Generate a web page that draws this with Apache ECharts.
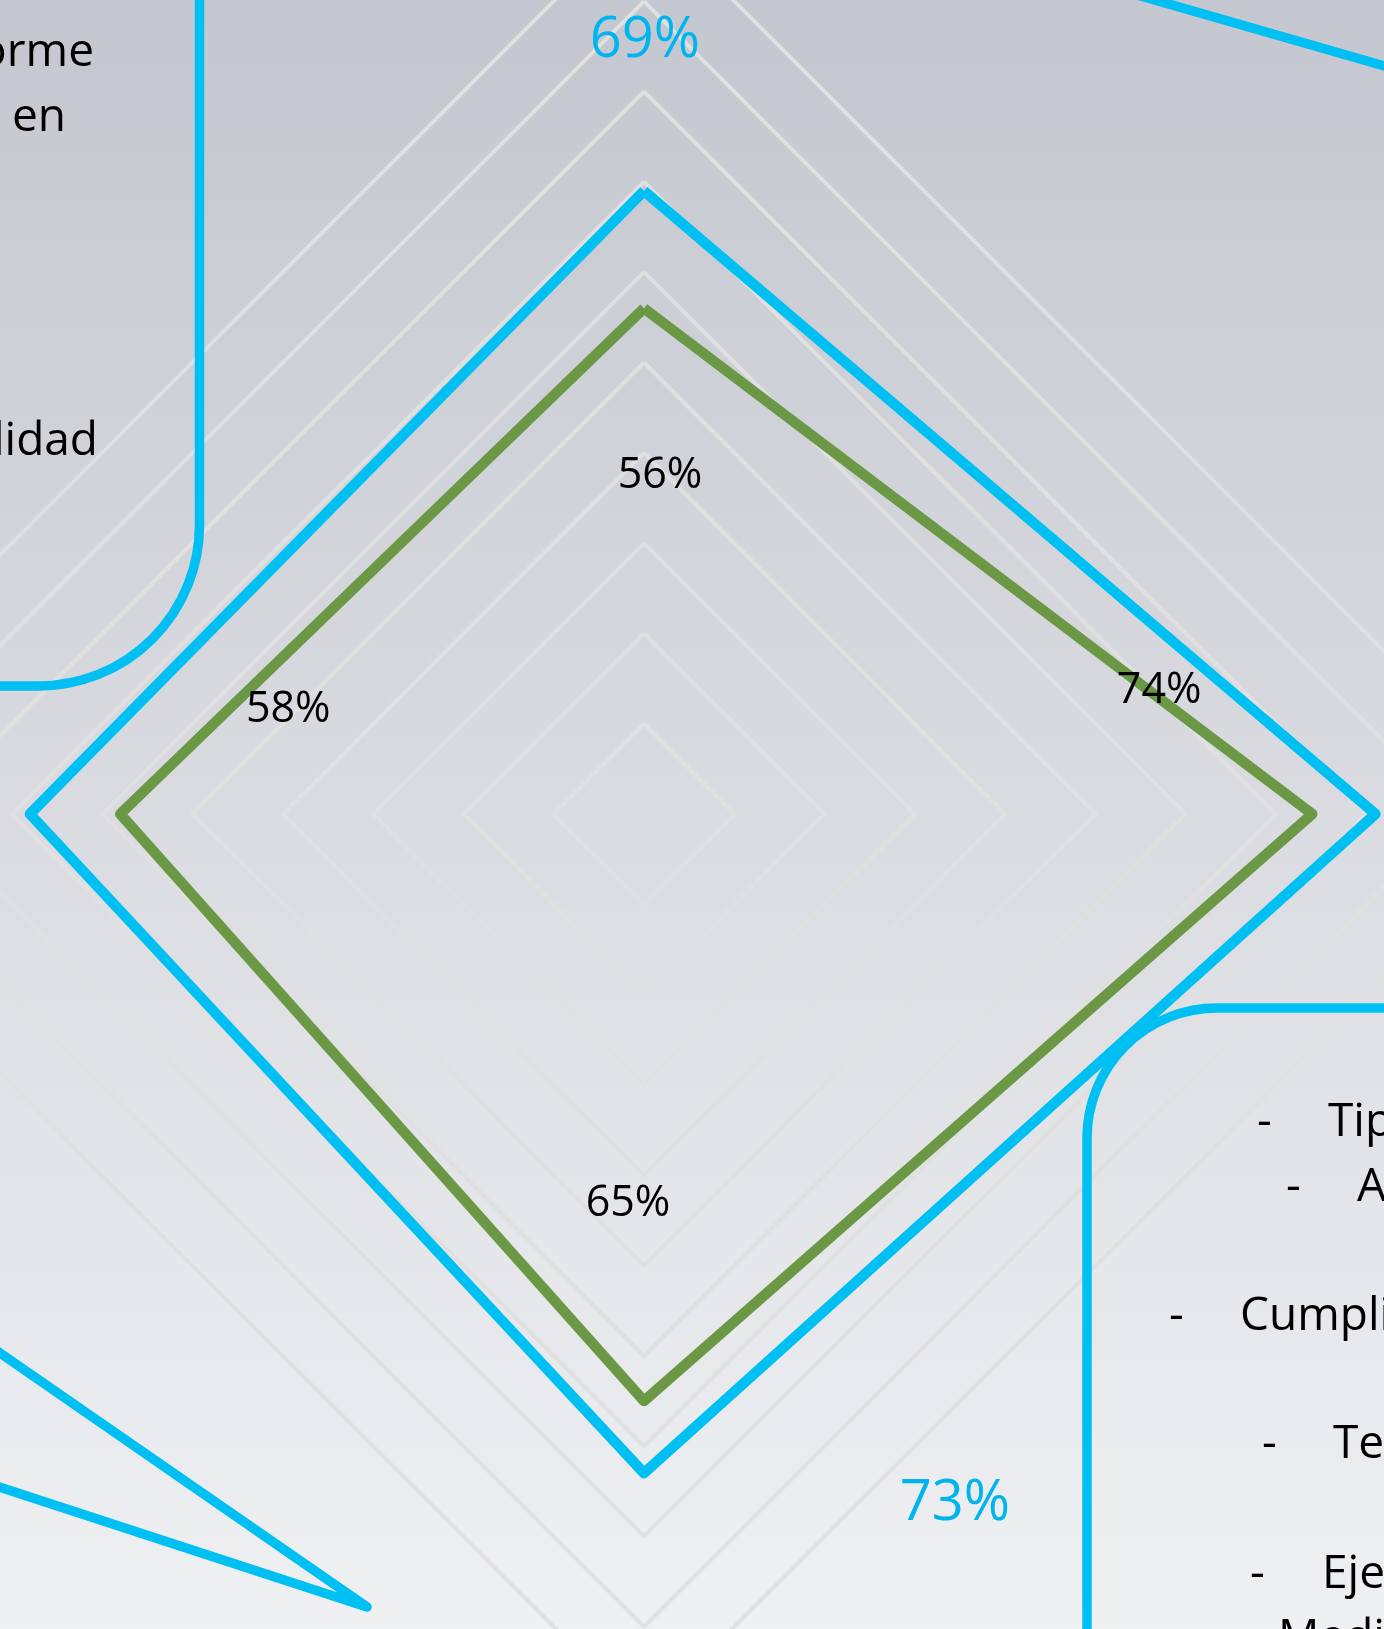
<!DOCTYPE html>
<html>
<head>
<meta charset="utf-8">
<script src="https://cdn.jsdelivr.net/npm/echarts@6/dist/echarts.min.js"></script>
<style>
  html, body { margin: 0; padding: 0; overflow: hidden; }
  #chart { width: 1384px; height: 1629px; }
</style>
</head>
<body>
<div id="chart"></div>
<script>
// Radar axes, in ECharts order: top, left, bottom, right
const indicadores = ['Dimensión 1', 'Dimensión 2', 'Dimensión 3', 'Dimensión 4'];
const escalaMax = 100;
const valoresVerde = [56, 58, 65, 74];
const valoresAzul = [69, 68, 73, 81];
// which vertices carry a value label
const etiquetasVerde = [0, 1, 2, 3];
const etiquetasAzul = [0, 2];
// text fragments of the two callout boxes
const textoCuadroSup = ['orme', 'en', 'lidad'];
const textoCuadroInf = ['Tip', 'A', 'Cumpli', 'Te', 'Eje', 'Medi'];

const AZUL = '#00bff3';
const VERDE = '#6a9845';
const FUENTE = '"Open Sans", "Noto Sans", sans-serif';
const W = 1384, H = 1629;

// label placement relative to each vertex (px)
const desplVerde = [[16, 167], [168, -104], [-16, -197], [-153, -123]];
const desplAzul = { 0: [1, -150], 2: [311, 31] };

// callout box text layout
const posCuadroSup = [{ x: 94, y: 53 }, { x: 66, y: 118 }, { x: 98, y: 442 }];
const posCuadroInf = [
  { guion: 1257, x: 1328, y: 1123 },
  { guion: 1286, x: 1357, y: 1188 },
  { guion: 1169, x: 1240, y: 1317 },
  { guion: 1262, x: 1333, y: 1445 },
  { guion: 1250, x: 1322, y: 1575 },
  { guion: null, x: 1278, y: 1639 }
];

const chart = echarts.init(document.getElementById('chart'), null, { renderer: 'canvas' });

const fondo = {
  type: 'rect', z: -100, silent: true,
  shape: { x: 0, y: 0, width: W, height: H },
  style: {
    fill: new echarts.graphic.LinearGradient(0, 0, 0, 1, [
      { offset: 0, color: '#c4c7cf' },
      { offset: 1, color: '#eff0f2' }
    ])
  }
};

function decoraciones() {
  const trazo = { stroke: AZUL, lineWidth: 9.5, fill: null, lineJoin: 'round', lineCap: 'round' };
  const els = [
    // upper-left callout box
    { type: 'rect', z: 10, silent: true,
      shape: { x: -600, y: -600, width: 799.5, height: 1286, r: 161 },
      style: Object.assign({}, trazo) },
    // lower-right callout box
    { type: 'rect', z: 10, silent: true,
      shape: { x: 1087, y: 1008, width: 900, height: 1000, r: 130 },
      style: Object.assign({}, trazo) },
    // connector at top right
    { type: 'line', z: 10, silent: true,
      shape: { x1: 1120, y1: -10, x2: 1440, y2: 82 },
      style: Object.assign({}, trazo) },
    // pointer at bottom left
    { type: 'polyline', z: 10, silent: true,
      shape: { points: [[-10, 1346], [367, 1607], [-10, 1484]] },
      style: Object.assign({}, trazo) }
  ];
  textoCuadroSup.forEach((t, i) => {
    els.push({ type: 'text', z: 20, silent: true,
      x: posCuadroSup[i].x, y: posCuadroSup[i].y,
      style: { text: t, fill: '#000', fontSize: 46, fontFamily: FUENTE, align: 'right', verticalAlign: 'middle' } });
  });
  textoCuadroInf.forEach((t, i) => {
    const p = posCuadroInf[i];
    if (p.guion !== null) {
      els.push({ type: 'text', z: 20, silent: true, x: p.guion, y: p.y,
        style: { text: '-', fill: '#000', fontSize: 46, fontFamily: FUENTE, align: 'left', verticalAlign: 'middle' } });
    }
    els.push({ type: 'text', z: 20, silent: true, x: p.x, y: p.y,
      style: { text: t, fill: '#000', fontSize: 46, fontFamily: FUENTE, align: 'left', verticalAlign: 'middle' } });
  });
  return els;
}

const option = {
  animation: false,
  radar: {
    center: [644, 814],
    radius: 903,
    startAngle: 90,
    shape: 'polygon',
    splitNumber: 10,
    indicator: indicadores.map(n => ({ name: n, min: 0, max: escalaMax })),
    axisName: { show: false },
    axisLine: { show: false },
    axisTick: { show: false },
    axisLabel: { show: false },
    splitArea: { show: false },
    splitLine: { lineStyle: { color: '#e0e0e0', width: 4 } }
  },
  series: [
    {
      type: 'radar', z: 3, silent: true,
      symbol: 'none',
      lineStyle: { color: AZUL, width: 10.5, join: 'round' },
      data: [{ value: valoresAzul, name: 'Serie azul' }]
    },
    {
      type: 'radar', z: 4, silent: true,
      symbol: 'none',
      lineStyle: { color: VERDE, width: 10.5, join: 'round' },
      data: [{ value: valoresVerde, name: 'Serie verde' }]
    }
  ],
  graphic: { elements: [fondo].concat(decoraciones()) }
};

chart.setOption(option);

// value labels anchored to the radar's own vertex positions
const radarCS = chart.getModel().getComponent('radar', 0).coordinateSystem;
const etiquetas = [];
etiquetasVerde.forEach(i => {
  const p = radarCS.dataToPoint(valoresVerde[i], i);
  const d = desplVerde[i];
  etiquetas.push({ type: 'text', z: 30, silent: true, x: p[0] + d[0], y: p[1] + d[1],
    style: { text: valoresVerde[i] + '%', fill: '#000', fontSize: 43, fontFamily: FUENTE, align: 'center', verticalAlign: 'middle' } });
});
etiquetasAzul.forEach(i => {
  const p = radarCS.dataToPoint(valoresAzul[i], i);
  const d = desplAzul[i];
  etiquetas.push({ type: 'text', z: 30, silent: true, x: p[0] + d[0], y: p[1] + d[1],
    style: { text: valoresAzul[i] + '%', fill: '#00b4f0', fontSize: 56, fontFamily: FUENTE, align: 'center', verticalAlign: 'middle' } });
});
chart.setOption({ graphic: { elements: [fondo].concat(decoraciones(), etiquetas) } }, { replaceMerge: ['graphic'] });
</script>
</body>
</html>
